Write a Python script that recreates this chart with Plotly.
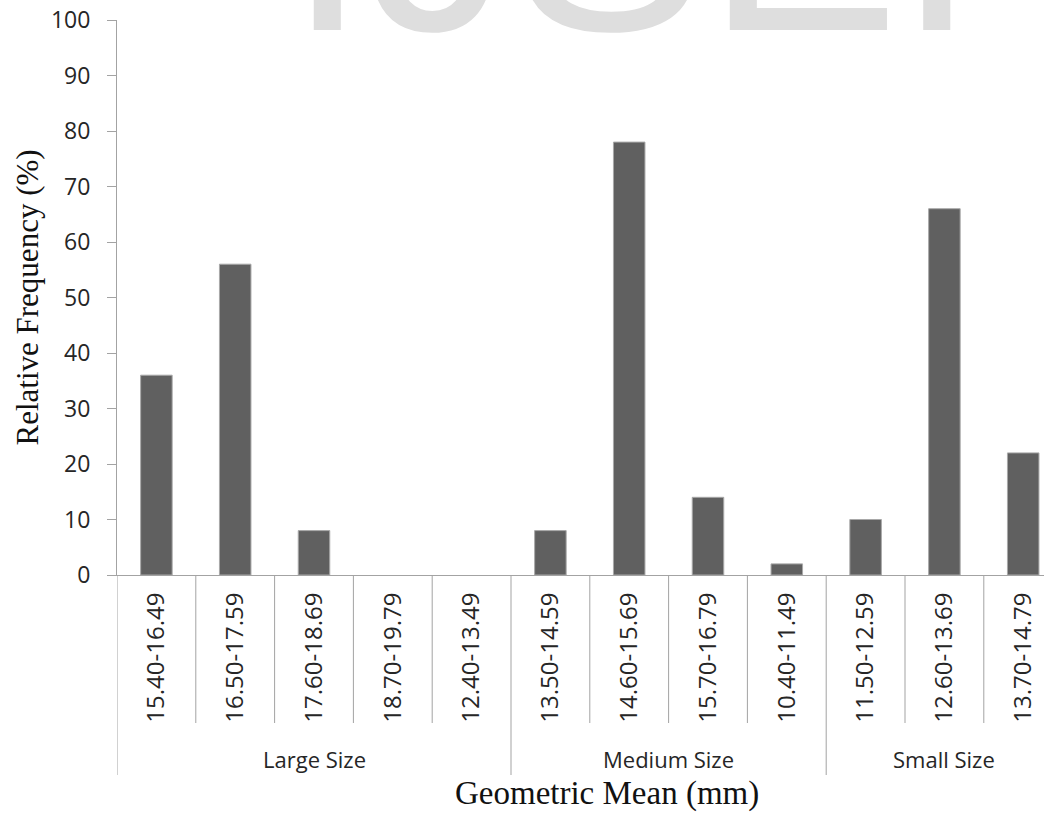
import plotly.graph_objects as go

# Size classes and geometric-mean ranges (mm), with relative frequency (%)
size_groups = ["Large Size"] * 5 + ["Medium Size"] * 4 + ["Small Size"] * 3
mean_ranges = [
    "15.40-16.49", "16.50-17.59", "17.60-18.69", "18.70-19.79", "12.40-13.49",
    "13.50-14.59", "14.60-15.69", "15.70-16.79", "10.40-11.49",
    "11.50-12.59", "12.60-13.69", "13.70-14.79",
]
rel_freq = [36, 56, 8, 0, 0, 8, 78, 14, 2, 10, 66, 22]
y_ticks = list(range(0, 101, 10))

W, H = 1044, 815
ML, MR, MT, MB = 117, 0, 20, 240
plot_w = W - ML - MR
plot_h = H - MT - MB
cat_px = 78.8  # width of one category slot in pixels

AXIS_GREY = "#a3a3a3"
SANS = "Open Sans"
SERIF = "Liberation Serif"

fig = go.Figure(
    go.Bar(
        x=mean_ranges,
        y=rel_freq,
        marker=dict(
            color="#606060",
            # no outline on empty classes so nothing shows at zero
            line=dict(color="#a8a8a8", width=[1 if v > 0 else 0 for v in rel_freq]),
        ),
        hoverinfo="x+y",
    )
)

def py(px_offset):
    """Pixel distance below the x axis -> paper y coordinate."""
    return -px_offset / plot_h

shapes = []
n = len(mean_ranges)
for k in range(n + 1):
    starts_group = k == 0 or k == n or size_groups[k] != size_groups[k - 1]
    shapes.append(dict(
        type="line", xref="x", yref="paper",
        x0=k - 0.5, x1=k - 0.5, y0=0, y1=py(200 if starts_group else 148),
        line=dict(color=AXIS_GREY, width=1),
    ))

annotations = []
seen = []
for g in size_groups:
    if g not in seen:
        seen.append(g)
for g in seen:
    idx = [i for i, s in enumerate(size_groups) if s == g]
    annotations.append(dict(
        text=g, xref="x", yref="paper", x=sum(idx) / len(idx), y=py(184),
        xanchor="center", yanchor="middle", showarrow=False,
        font=dict(family=SANS, size=22, color="#262626"),
    ))

annotations.append(dict(
    text="Geometric Mean (mm)", xref="paper", yref="paper",
    x=(607 - ML) / plot_w, y=py(218), xanchor="center", yanchor="middle",
    showarrow=False, font=dict(family=SERIF, size=33, color="#111111"),
))
annotations.append(dict(
    text="Relative Frequency (%)", xref="paper", yref="paper",
    x=(27 - ML) / plot_w, y=0.5, xanchor="center", yanchor="middle",
    textangle=-90, showarrow=False,
    font=dict(family=SERIF, size=31, color="#111111"),
))
# journal watermark, mostly above the page edge
annotations.append(dict(
    text="IJSER", xref="paper", yref="paper",
    x=(698 - ML) / plot_w, y=1 + (MT - 35) / plot_h, xanchor="center", yanchor="bottom",
    yshift=-58, showarrow=False,
    font=dict(family="Liberation Sans", size=290, color="#dedede"),
))

fig.update_layout(
    width=W, height=H,
    margin=dict(l=ML, r=MR, t=MT, b=MB, pad=0),
    paper_bgcolor="white", plot_bgcolor="white",
    showlegend=False,
    bargap=0.6,
    shapes=shapes,
    annotations=annotations,
    xaxis=dict(
        type="category",
        range=[-0.5, -0.5 + plot_w / cat_px],
        showline=True, linecolor=AXIS_GREY, linewidth=1,
        ticks="", showgrid=False, zeroline=False,
        tickangle=-90,
        tickfont=dict(family=SANS, size=24, color="#262626"),
        ticklabelstandoff=7,
        fixedrange=True,
    ),
    yaxis=dict(
        range=[0, 100], tickvals=y_ticks,
        showline=True, linecolor=AXIS_GREY, linewidth=1,
        ticks="outside", ticklen=9, tickcolor=AXIS_GREY, tickwidth=1,
        showgrid=False, zeroline=False,
        tickfont=dict(family=SANS, size=23, color="#262626"),
        ticklabelstandoff=12,
        fixedrange=True,
    ),
)

fig.write_html("out.html")
